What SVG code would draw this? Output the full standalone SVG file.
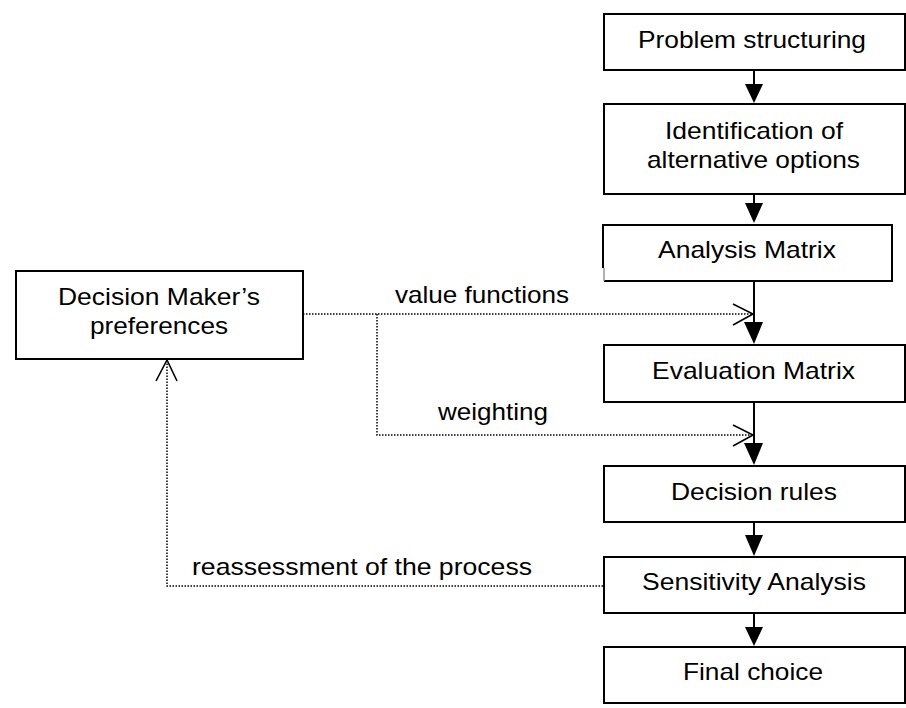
<svg xmlns="http://www.w3.org/2000/svg" width="906" height="708" viewBox="0 0 906 708">
<style>
.box{fill:#fff;stroke:#000;stroke-width:2}
.t{font-family:"Liberation Sans",Arial,sans-serif;font-size:24px;fill:#000}
.sol{stroke:#000;stroke-width:2;fill:none}
.dot{stroke:#000;stroke-width:1.5;stroke-dasharray:1.5 1.5;fill:none}
.chev{stroke:#000;stroke-width:1.6;fill:none}
.head{fill:#000}
</style>
<rect width="906" height="708" fill="#fff"/>
<g id="connectors">
<line class="sol" x1="754" y1="70" x2="754" y2="86"/>
<polygon class="head" points="745,84 763,84 754,103"/>
<line class="sol" x1="754" y1="194" x2="754" y2="205"/>
<polygon class="head" points="745,203 763,203 754,223"/>
<line class="sol" x1="754" y1="281" x2="754" y2="324"/>
<polygon class="head" points="744,322 763,322 754,344"/>
<line class="sol" x1="754" y1="402" x2="754" y2="446"/>
<polygon class="head" points="744,443 763,443 754,465"/>
<line class="sol" x1="754" y1="522" x2="754" y2="537"/>
<polygon class="head" points="745,535 763,535 754,556"/>
<line class="sol" x1="754" y1="613" x2="754" y2="629"/>
<polygon class="head" points="745,627 763,627 754,646"/>
<polyline class="dot" points="303,314 752,314"/>
<polyline class="chev" points="733,304 753,314 733,325"/>
<polyline class="dot" points="377,314 377,435 752,435"/>
<polyline class="chev" points="733,425 753,435 733,446"/>
<polyline class="dot" points="603,586 167,586 167,362"/>
<polyline class="chev" points="156,381 167,360 177,381"/>
<text class="t" x="395" y="303" textLength="174" lengthAdjust="spacingAndGlyphs">value functions</text>
<text class="t" x="438" y="420" textLength="110" lengthAdjust="spacingAndGlyphs">weighting</text>
<text class="t" x="192" y="575" textLength="340" lengthAdjust="spacingAndGlyphs">reassessment of the process</text>
</g>
<g id="n-problem">
<rect class="box" x="604" y="14" width="301" height="56"/>
<text class="t" x="638" y="48" textLength="228" lengthAdjust="spacingAndGlyphs">Problem structuring</text>
</g>
<g id="n-identification">
<rect class="box" x="604" y="104" width="301" height="90"/>
<text class="t" x="665" y="139" textLength="178" lengthAdjust="spacingAndGlyphs">Identification of</text>
<text class="t" x="647" y="168" textLength="213" lengthAdjust="spacingAndGlyphs">alternative options</text>
</g>
<g id="n-analysis">
<path class="sol" d="M603,268 V225 H892 V281 H604"/>
<line x1="604" y1="268" x2="604" y2="281" stroke="#999" stroke-width="1.5"/>
<text class="t" x="658" y="258" textLength="178" lengthAdjust="spacingAndGlyphs">Analysis Matrix</text>
</g>
<g id="n-evaluation">
<rect class="box" x="604" y="345" width="301" height="57"/>
<text class="t" x="652" y="379" textLength="203" lengthAdjust="spacingAndGlyphs">Evaluation Matrix</text>
</g>
<g id="n-rules">
<rect class="box" x="604" y="466" width="301" height="56"/>
<text class="t" x="671" y="500" textLength="166" lengthAdjust="spacingAndGlyphs">Decision rules</text>
</g>
<g id="n-sensitivity">
<rect class="box" x="604" y="557" width="301" height="56"/>
<text class="t" x="642" y="590" textLength="224" lengthAdjust="spacingAndGlyphs">Sensitivity Analysis</text>
</g>
<g id="n-final">
<rect class="box" x="604" y="647" width="301" height="56"/>
<text class="t" x="683" y="680" textLength="140" lengthAdjust="spacingAndGlyphs">Final choice</text>
</g>
<g id="n-dm">
<rect class="box" x="16" y="271" width="287" height="88"/>
<text class="t" x="58" y="305" textLength="202" lengthAdjust="spacingAndGlyphs">Decision Maker’s</text>
<text class="t" x="90" y="334" textLength="138" lengthAdjust="spacingAndGlyphs">preferences</text>
</g>
</svg>
